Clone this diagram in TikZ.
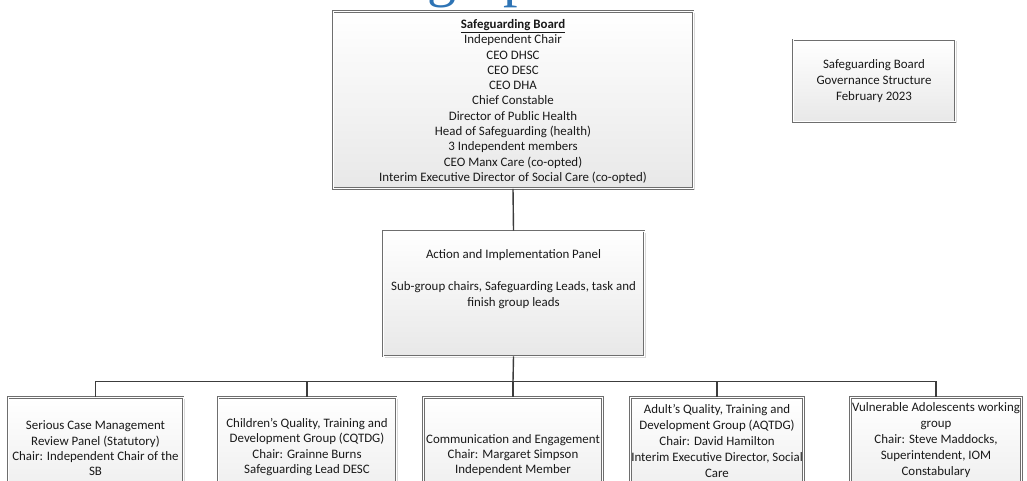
\documentclass[tikz,border=0pt]{standalone}
\usepackage{fontspec}
\setmainfont{Carlito}
\newfontfamily\titleserif{Liberation Serif}
\usetikzlibrary{shadows}
\definecolor{boxline}{RGB}{110,110,110}
\definecolor{connline}{RGB}{60,60,60}
\definecolor{txtcol}{RGB}{25,25,25}
\definecolor{fillbot}{RGB}{232,232,232}
\definecolor{titleblue}{RGB}{46,116,181}
\tikzset{
  orgbox/.style={draw=boxline, double=white, double distance=1pt, line width=0.85pt,
    top color=white, bottom color=fillbot, inner sep=0pt,
    drop shadow={shadow xshift=1.5pt, shadow yshift=-1.5pt, opacity=0.15, fill=black}},
  boxtext/.style={align=center, text=txtcol, inner sep=0pt,
    font=\fontsize{12.9}{15.3}\selectfont},
  conn/.style={draw=connline, line width=1.4pt},
  titleglyph/.style={text=titleblue, inner sep=0pt, font=\titleserif\fontsize{58}{58}\selectfont}
}
\begin{document}
\begin{tikzpicture}[x=1pt,y=-1pt]
\useasboundingbox (0,0) rectangle (1027,481);
\clip (0,0) rectangle (1027,481);
\fill[white] (0,0) rectangle (1027,481);

% cropped title glyphs
\node[titleglyph, anchor=base west] (tg) at (427,-4.5) {g};
\node[titleglyph, anchor=base west] (tp) at (503,-4.5) {p};

% Safeguarding Board
\node[orgbox, minimum width=360pt, minimum height=177pt] (sb) at (513,100) {};
\node[boxtext] (sbt) at (513,101.5) {\underline{\textbf{Safeguarding Board}}\\
Independent Chair\\
CEO DHSC\\
CEO DESC\\
CEO DHA\\
Chief Constable\\
Director of Public Health\\
Head of Safeguarding (health)\\
3 Independent members\\
CEO Manx Care (co-opted)\\
Interim Executive Director of Social Care (co-opted)};

% title box
\node[orgbox, minimum width=162pt, minimum height=82pt] (gov) at (874,81) {};
\node[boxtext, font=\fontsize{12.9}{16}\selectfont] (govt) at (874,81) {Safeguarding Board\\Governance Structure\\February 2023};

% Action and Implementation Panel
\node[orgbox, minimum width=261pt, minimum height=125pt] (aip) at (513.5,293.5) {};
\node[boxtext, anchor=north, font=\fontsize{12.9}{16}\selectfont] (aipt) at (513.5,249) {Action and Implementation Panel\\[16pt]
Sub-group chairs, Safeguarding Leads, task and\\finish group leads};

% bottom boxes
\node[orgbox, anchor=north, minimum width=175pt, minimum height=130pt] (b1) at (95.5,397) {};
\node[orgbox, anchor=north, minimum width=178pt, minimum height=130pt] (b2) at (307,397) {};
\node[orgbox, anchor=north, minimum width=179pt, minimum height=130pt] (b3) at (513,397) {};
\node[orgbox, anchor=north, minimum width=173pt, minimum height=130pt] (b4) at (717,397) {};
\node[orgbox, anchor=north, minimum width=171pt, minimum height=130pt] (b5) at (936,397) {};

\node[boxtext, anchor=south] (b1t) at (95.5,476) {Serious Case Management\\Review Panel (Statutory)\\Chair: Independent Chair of the\\SB};
\node[boxtext, anchor=south] (b2t) at (307,476) {Children’s Quality, Training and\\Development Group (CQTDG)\\Chair: Grainne Burns\\Safeguarding Lead DESC};
\node[boxtext, anchor=south] (b3t) at (513,476) {Communication and Engagement\\Chair: Margaret Simpson\\Independent Member};
\node[boxtext, anchor=south, font=\fontsize{12.9}{16}\selectfont] (b4t) at (717,478) {Adult’s Quality, Training and\\Development Group (AQTDG)\\Chair: David Hamilton\\Interim Executive Director, Social\\Care};
\node[boxtext, anchor=south, font=\fontsize{12.9}{16}\selectfont] (b5t) at (936,478) {Vulnerable Adolescents working\\group\\Chair: Steve Maddocks,\\Superintendent, IOM\\Constabulary};

% connectors
\coordinate (bus) at (513,381.5);
\draw[conn] (sb.south) -- (aip.north);
\draw[conn] (aip.south) -- (bus);
\draw[conn] (bus) -| (b1.north);
\draw[conn] (bus) -| (b2.north);
\draw[conn] (bus) -- (b3.north);
\draw[conn] (bus) -| (b4.north);
\draw[conn] (bus) -| (b5.north);
\end{tikzpicture}
\end{document}
